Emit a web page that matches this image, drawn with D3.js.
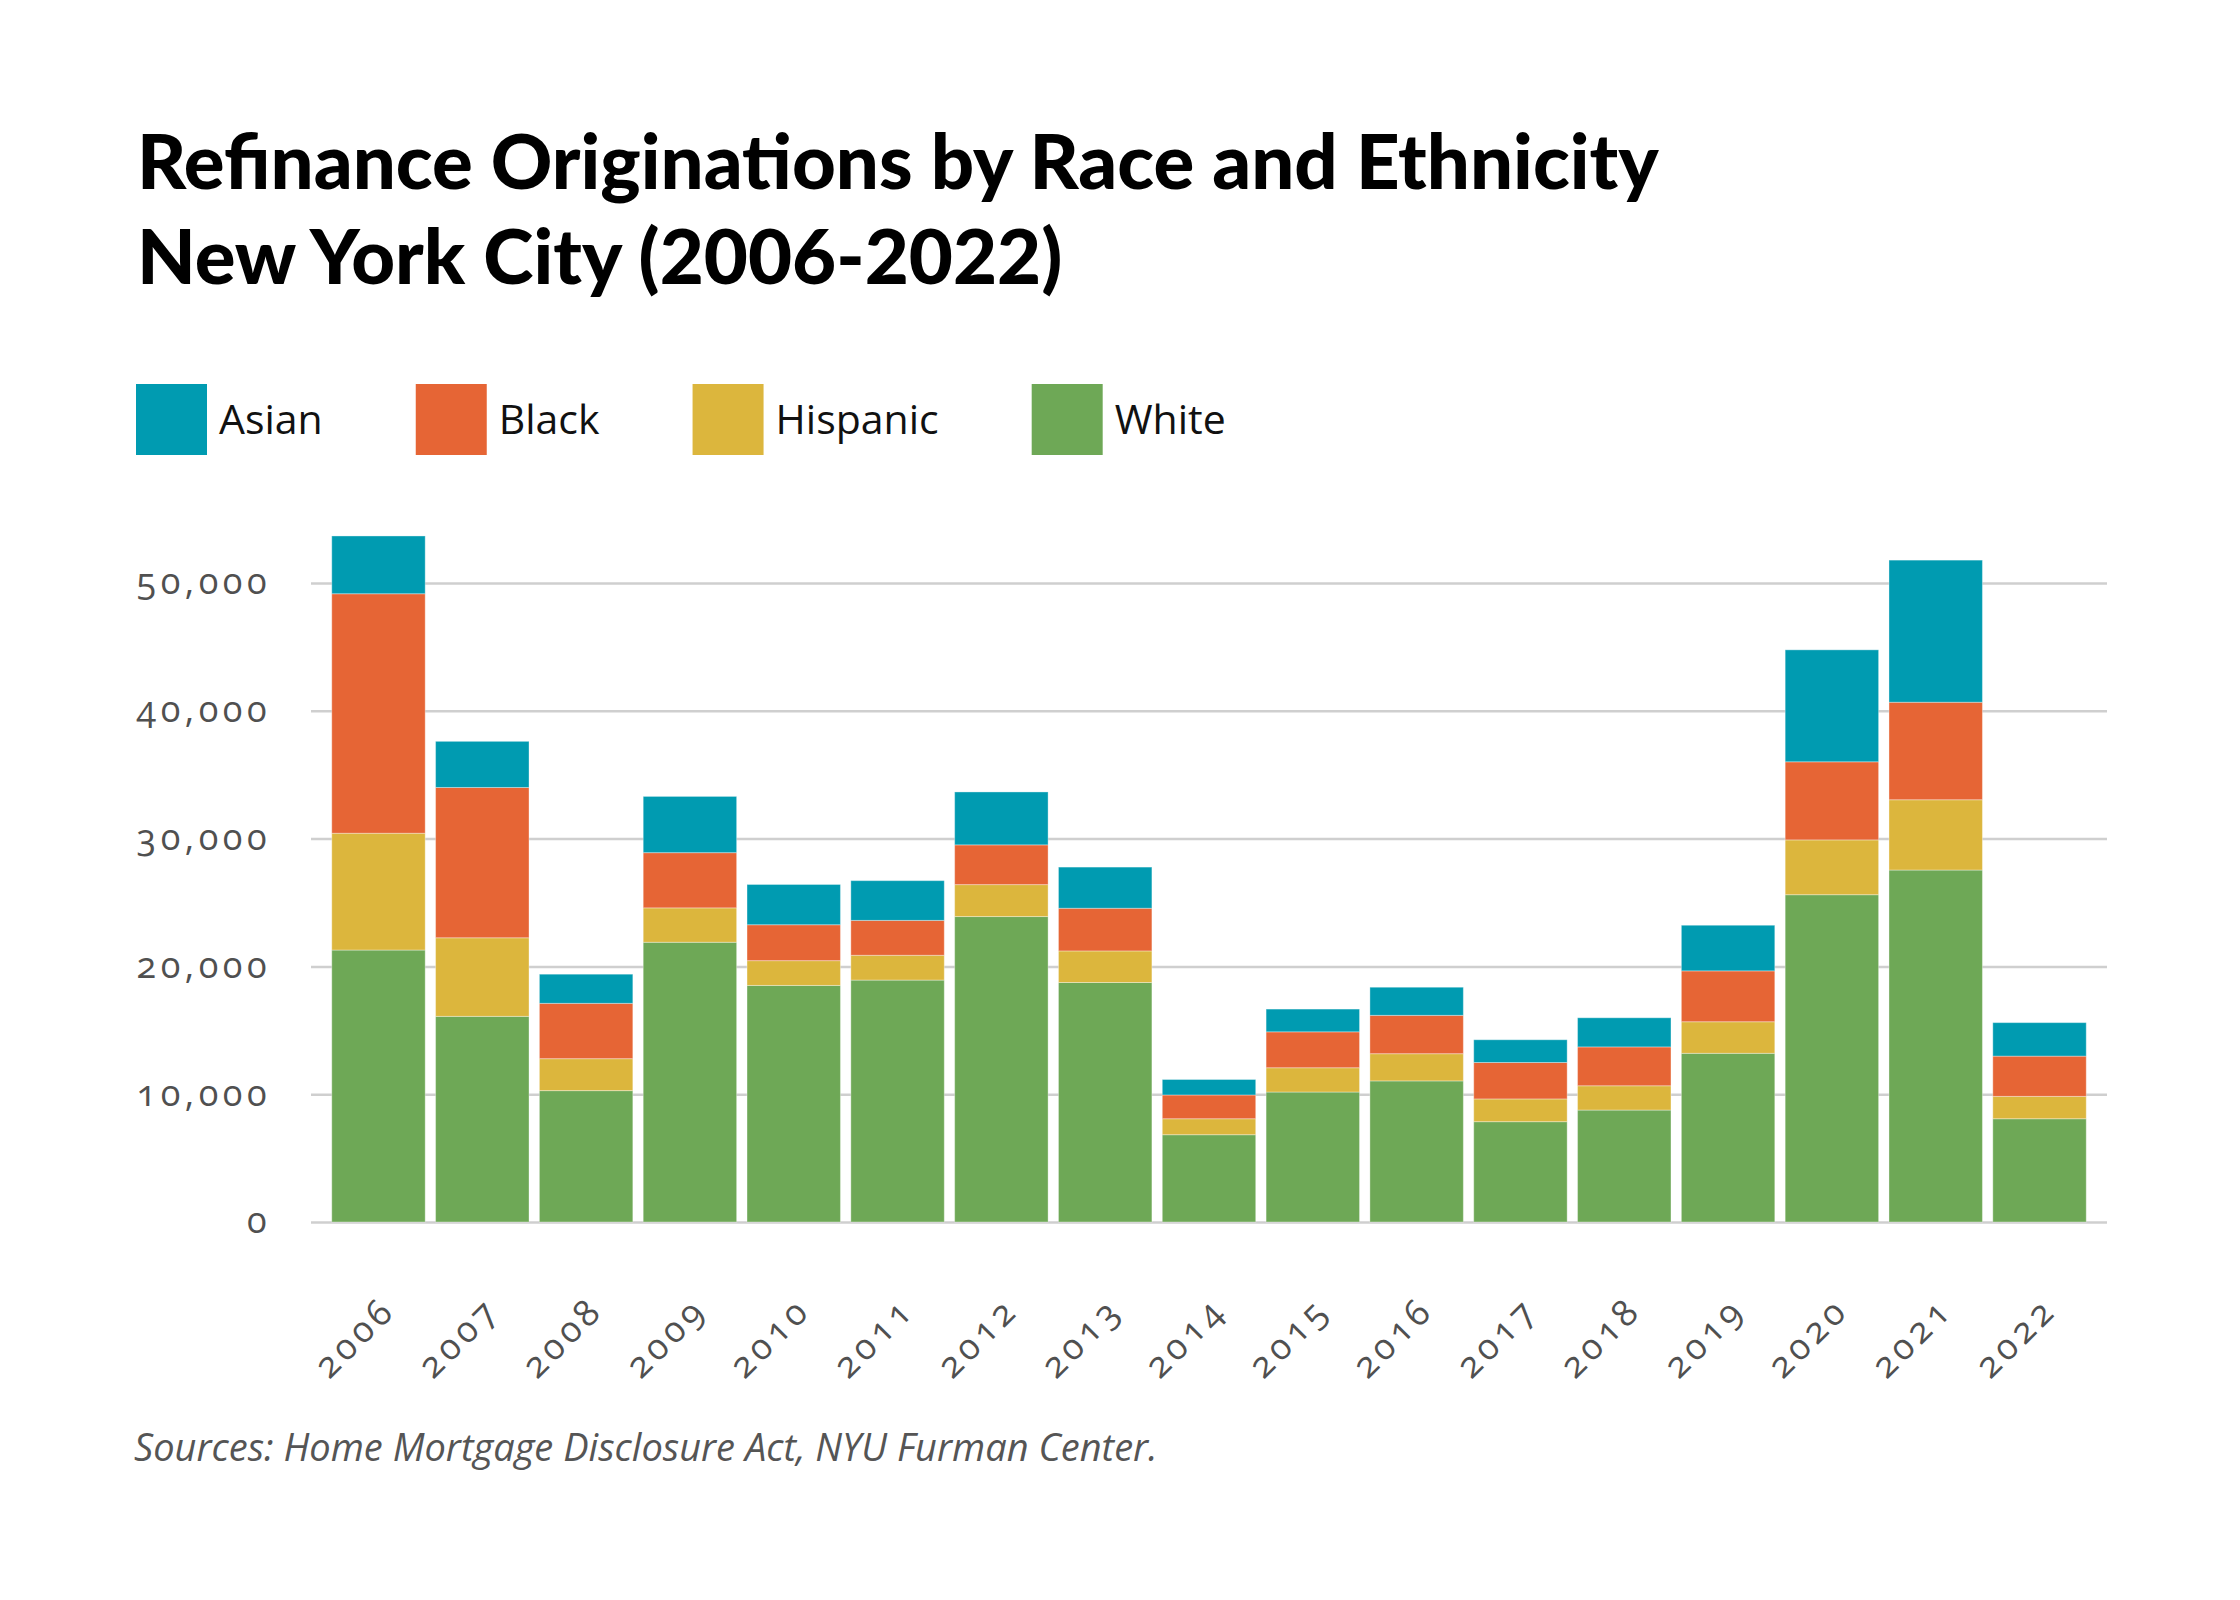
<!DOCTYPE html>
<html lang="en">
  <head>
    <meta charset="utf-8">
    <title>Refinance Originations by Race and Ethnicity</title>
    <script src="https://cdn.jsdelivr.net/npm/d3@7"></script>
    <style>
      body { margin: 0; background: #fff; }
      svg { display: block; }
      .title { font-family: Lato, "Open Sans", sans-serif; font-weight: 900; fill: #000; }
      .legend text { font-family: "Open Sans", sans-serif; fill: #111; }
      .axis text { font-family: "Open Sans", sans-serif; fill: #505050; font-variant-numeric: oldstyle-nums; }
      .source { font-family: "Open Sans", sans-serif; font-style: italic; fill: #555; }
    </style>
  </head>
  <body>
    <div id="chart"></div>
  </body>
</html>

<script>

// values
const years = ["2006","2007","2008","2009","2010","2011","2012","2013","2014","2015","2016","2017","2018","2019","2020","2021","2022"];
const white    = [21280,16090,10280,21890,18510,18930,23900,18740,6830,10170,11040,7850,8760,13200,25610,27540,8080];
const hispanic = [9140,6150,2500,2690,1940,1940,2500,2470,1250,1900,2130,1780,1900,2470,4290,5500,1750];
const black    = [18740,11760,4330,4320,2810,2730,3110,3340,1860,2810,3000,2850,3040,3980,6110,7630,3150];
const asian    = [4520,3610,2280,4400,3150,3110,4140,3220,1210,1780,2200,1780,2280,3570,8760,11120,2620];
const yTicks = [0, 10000, 20000, 30000, 40000, 50000];
const legendOrder = ["Asian", "Black", "Hispanic", "White"];
const stackOrder = ["White", "Hispanic", "Black", "Asian"];
const colors = { Asian: "#009bb1", Black: "#e66535", Hispanic: "#dcb63d", White: "#6ea856" };

const rows = years.map((y, i) => ({
  year: y, White: white[i], Hispanic: hispanic[i], Black: black[i], Asian: asian[i]
}));

const width = 2240, height = 1600;
const left = 311, right = 2107, bottom = 1222, top50 = 583;

const svg = d3.select("#chart").append("svg")
  .attr("width", width)
  .attr("height", height);

// shrink/grow a text so it spans a given width
function fit(sel, target) {
  const node = sel.node();
  const w = node.getComputedTextLength();
  const fs = parseFloat(sel.attr("font-size"));
  sel.attr("font-size", fs * target / w);
}

// title
const t1 = svg.append("text").attr("class", "title")
  .attr("x", 137).attr("y", 189).attr("font-size", 66)
  .text("Refinance Originations by Race and Ethnicity");
fit(t1, 1522);
const t2 = svg.append("text").attr("class", "title")
  .attr("x", 137).attr("y", 284).attr("font-size", t1.attr("font-size"))
  .text("New York City (2006-2022)");

// legend
const legend = svg.append("g").attr("class", "legend");
let lx = 136;
legendOrder.forEach(k => {
  legend.append("rect")
    .attr("x", lx).attr("y", 384)
    .attr("width", 71).attr("height", 71)
    .attr("fill", colors[k]);
  const lt = legend.append("text")
    .attr("x", lx + 83).attr("y", 434)
    .attr("font-size", 41)
    .text(k);
  lx = lx + 83 + lt.node().getComputedTextLength() + 93;
});

// scales
const x = d3.scaleBand()
  .domain(years)
  .range([left, right])
  .paddingInner(0.1)
  .paddingOuter(0.2);

const y = d3.scaleLinear()
  .domain([0, 50000])
  .range([bottom, top50]);

// y axis with gridlines
const yAxis = svg.append("g")
  .attr("class", "axis")
  .attr("transform", `translate(${left},0)`)
  .call(d3.axisLeft(y).tickValues(yTicks).tickFormat(d3.format(",")).tickSize(-(right - left)).tickPadding(40));

yAxis.select(".domain").remove();
yAxis.selectAll(".tick line").attr("stroke", "#cfcfcf").attr("stroke-width", 2.5);
yAxis.selectAll(".tick text")
  .attr("font-size", 36)
  .attr("letter-spacing", 4.5)
  .attr("dy", "0.3em");

// stacked bars
const series = d3.stack().keys(stackOrder)(rows);

svg.append("g")
  .selectAll("g")
  .data(series)
  .join("g")
  .attr("fill", d => colors[d.key])
  .selectAll("rect")
  .data(d => d)
  .join("rect")
  .attr("x", d => x(d.data.year))
  .attr("y", d => y(d[1]))
  .attr("height", d => y(d[0]) - y(d[1]))
  .attr("width", x.bandwidth())
  .attr("stroke", "#fff")
  .attr("stroke-opacity", 0.35)
  .attr("stroke-width", 1);

// x axis
const xAxis = svg.append("g")
  .attr("class", "axis")
  .attr("transform", `translate(0,${bottom})`)
  .call(d3.axisBottom(x).tickSize(0));

xAxis.select(".domain").remove();
xAxis.selectAll(".tick text")
  .attr("font-size", 36)
  .attr("letter-spacing", 4.5)
  .attr("text-anchor", "end")
  .attr("dy", null)
  .attr("y", 0)
  .attr("transform", "translate(19,90) rotate(-45)");

// source
const src = svg.append("text").attr("class", "source")
  .attr("x", 134).attr("y", 1461).attr("font-size", 34)
  .text("Sources: Home Mortgage Disclosure Act, NYU Furman Center.");
fit(src, 1024);

</script>
